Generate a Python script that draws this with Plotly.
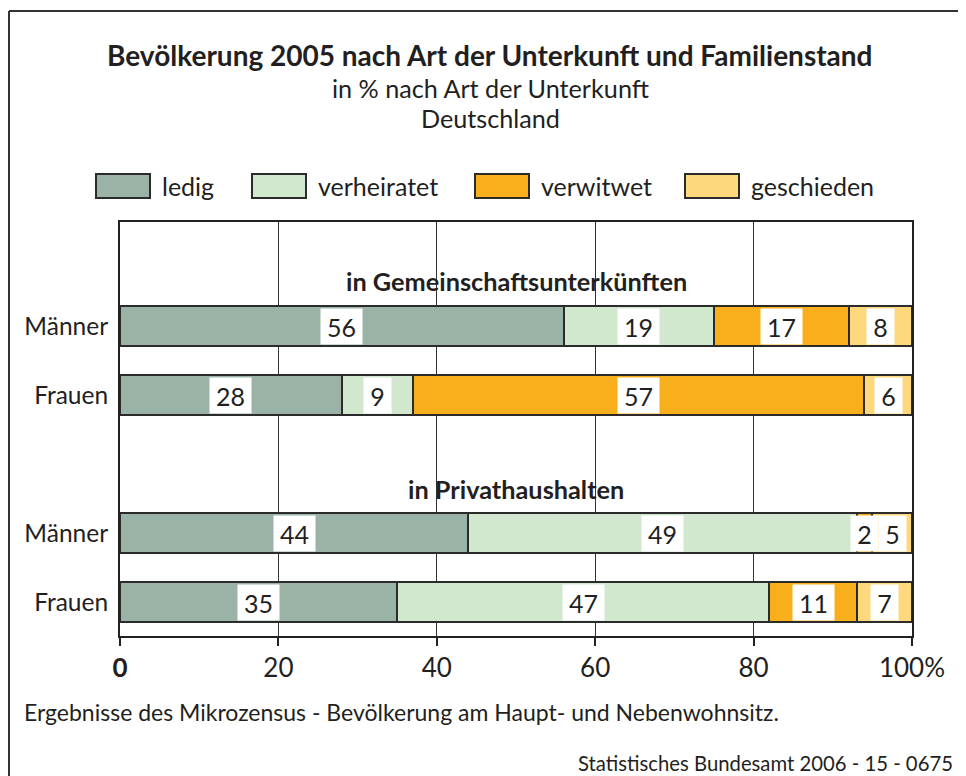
import plotly.graph_objects as go

# ---- data ----
series_names = ["ledig", "verheiratet", "verwitwet", "geschieden"]
series_colors = ["#9bb3a6", "#d1e8cf", "#f9ae1b", "#fed87c"]
row_labels = ["Männer", "Frauen", "Männer", "Frauen"]
row_pos = [0, 1, 3, 4]
group_titles = ["in Gemeinschaftsunterkünften", "in Privathaushalten"]
group_title_pos = [-0.65, 2.36]
ledig = [56, 28, 44, 35]
verheiratet = [19, 9, 49, 47]
verwitwet = [17, 57, 2, 11]
geschieden = [8, 6, 5, 7]
x_tickvals = [0, 20, 40, 60, 80, 100]
x_ticktext = ["<b>0</b>", "20", "40", "60", "80", "100%"]

values = [ledig, verheiratet, verwitwet, geschieden]

FONT = "Lato, 'Open Sans', sans-serif"
TXT = "#231f20"
# page body has an 8px margin, so the figure is 8px smaller and offset
W, H = 958, 768
L, R, T, B = 112, 54, 214, 140
PW, PH = W - L - R, H - T - B


def px_x(px):  # reference-screen pixel -> paper
    return (px - 8 - L) / PW


def px_y(py):
    return (H - B - (py - 8)) / PH


fig = go.Figure()
for name, col, vals in zip(series_names, series_colors, values):
    fig.add_trace(go.Bar(
        y=row_pos, x=vals, name=name, orientation="h",
        marker=dict(color=col, line=dict(color="#2b2b2b", width=2)),
        width=0.58, showlegend=False, hoverinfo="x+name",
    ))

annotations = []
# value labels
for i, y in enumerate(row_pos):
    start = 0
    for vals in values:
        v = vals[i]
        annotations.append(dict(
            x=start + v / 2, y=y, xref="x", yref="y", text=str(v),
            showarrow=False, bgcolor="white", width=14 * len(str(v)) + 11,
            height=33, yanchor="middle",
            font=dict(size=25, color=TXT, family=FONT),
        ))
        start += v

# group titles
for t, yp in zip(group_titles, group_title_pos):
    annotations.append(dict(x=50, y=yp, xref="x", yref="y", text=f"<b>{t}</b>",
                            showarrow=False, yanchor="middle",
                            font=dict(size=25.3, color=TXT, family=FONT)))

# titles
cx = px_x(490)
annotations += [
    dict(x=cx, y=px_y(55), text="<b>Bevölkerung 2005 nach Art der Unterkunft und Familienstand</b>",
         font=dict(size=28, color=TXT, family=FONT)),
    dict(x=cx, y=px_y(88), text="in % nach Art der Unterkunft",
         font=dict(size=25.2, color=TXT, family=FONT)),
    dict(x=cx, y=px_y(118), text="Deutschland",
         font=dict(size=25.2, color=TXT, family=FONT)),
    dict(x=px_x(22), y=px_y(712), xanchor="left",
         text="Ergebnisse des Mikrozensus - Bevölkerung am Haupt- und Nebenwohnsitz.",
         font=dict(size=23, color=TXT, family=FONT)),
    dict(x=px_x(955), y=px_y(763), xanchor="right",
         text="Statistisches Bundesamt 2006 - 15 - 0675",
         font=dict(size=20.3, color=TXT, family=FONT)),
]
for a in annotations[-5:]:
    a.update(xref="paper", yref="paper", showarrow=False, yanchor="middle")

shapes = []
# manual legend
legend_box_x = [96, 252, 475, 685]
for name, col, bx in zip(series_names, series_colors, legend_box_x):
    shapes.append(dict(type="rect", xref="paper", yref="paper",
                       x0=px_x(bx), x1=px_x(bx + 54), y0=px_y(198), y1=px_y(174),
                       fillcolor=col, line=dict(color="#2b2b2b", width=2)))
    annotations.append(dict(x=px_x(bx + 64), y=px_y(186), xref="paper", yref="paper",
                            xanchor="left", yanchor="middle", showarrow=False, text=name,
                            font=dict(size=25, color=TXT, family=FONT)))

# outer frame (top and left edges)
shapes.append(dict(type="line", xref="paper", yref="paper", x0=px_x(9), x1=px_x(980),
                   y0=px_y(11), y1=px_y(11), line=dict(color="#333", width=2)))
shapes.append(dict(type="line", xref="paper", yref="paper", x0=px_x(9), x1=px_x(9),
                   y0=px_y(11), y1=px_y(790), line=dict(color="#333", width=2)))

fig.update_layout(
    barmode="stack", width=W, height=H,
    margin=dict(l=L, r=R, t=T, b=B),
    paper_bgcolor="white", plot_bgcolor="white",
    font=dict(family=FONT, color=TXT, size=24),
    annotations=annotations, shapes=shapes,
    xaxis=dict(range=[0, 100], tickvals=x_tickvals, ticktext=x_ticktext,
               showgrid=True, gridcolor="#333", gridwidth=1, zeroline=False,
               showline=True, linecolor="#222", linewidth=2, mirror=True,
               ticks="outside", ticklen=8, tickcolor="#222", tickwidth=2,
               tickfont=dict(size=26, color=TXT, family=FONT)),
    yaxis=dict(range=[4.49, -1.51], tickvals=row_pos, ticktext=row_labels,
               showgrid=False, zeroline=False, showline=True, linecolor="#222",
               linewidth=2, mirror=True, ticks="", ticklabelstandoff=5,
               tickfont=dict(size=24.5, color=TXT, family=FONT)),
)

fig.write_html("out.html")
